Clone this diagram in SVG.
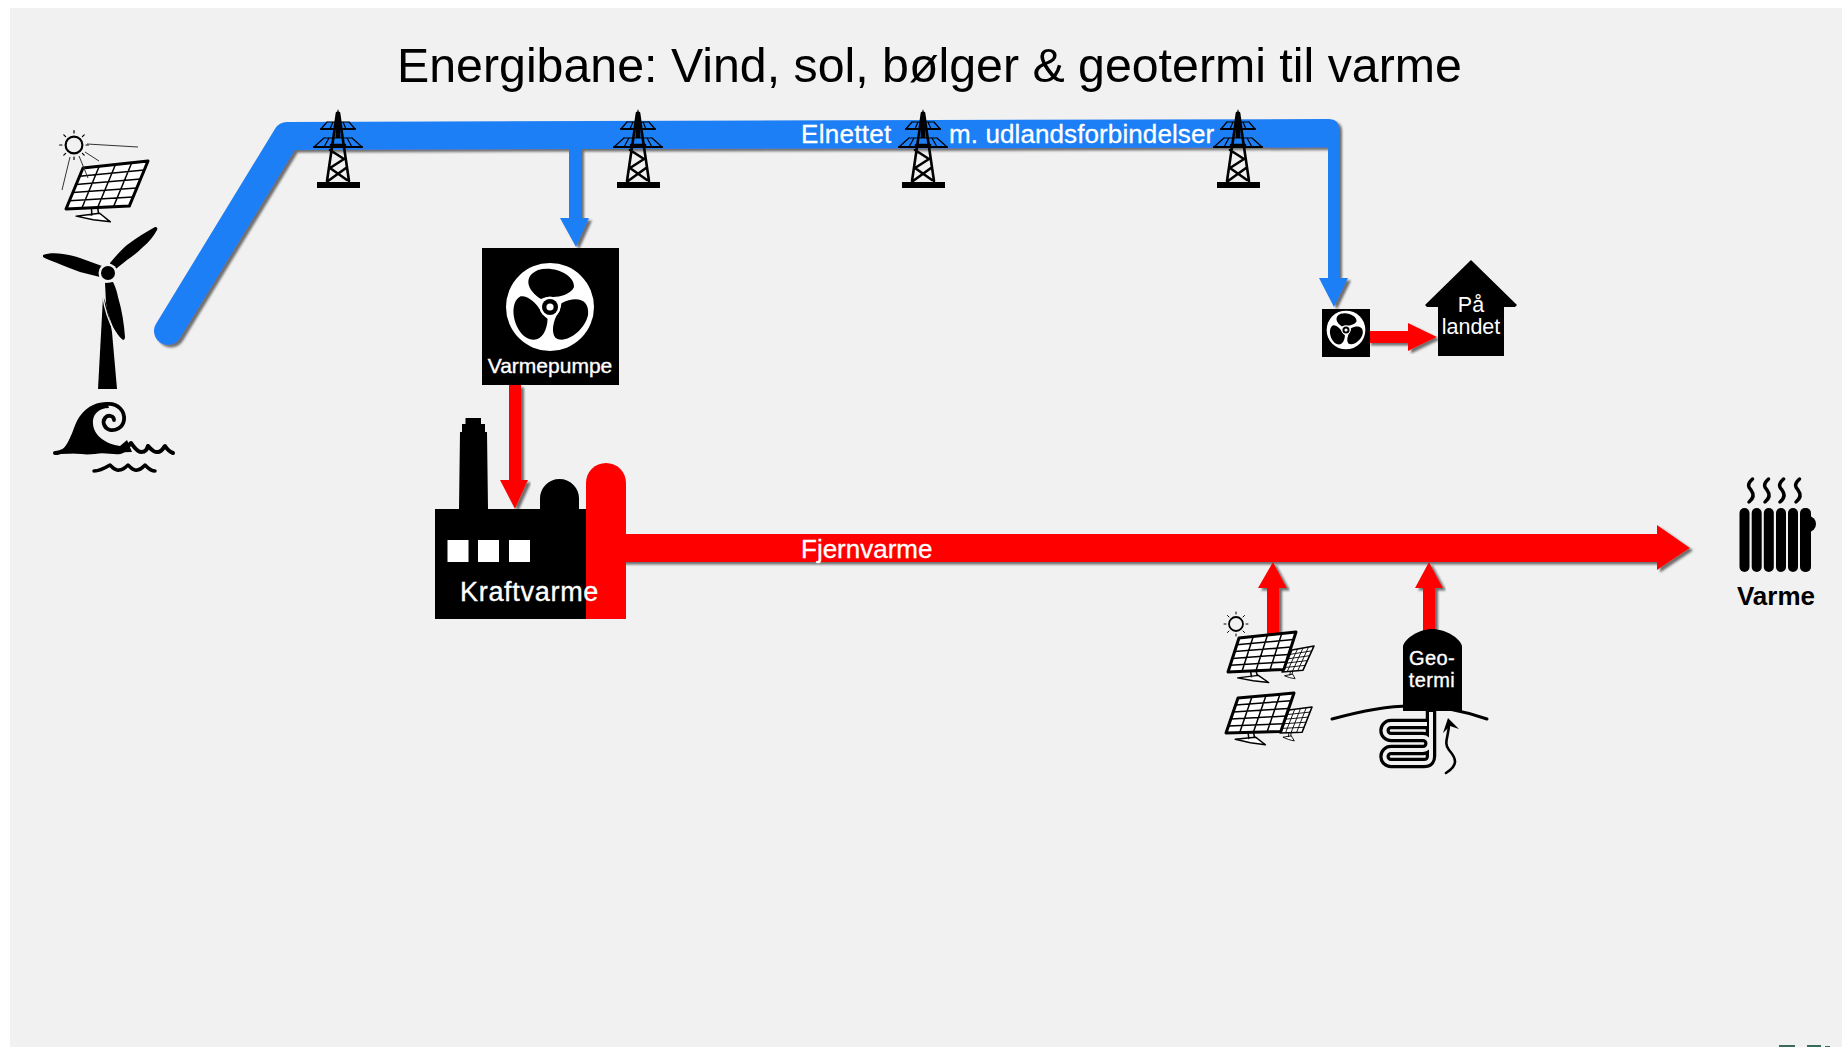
<svg xmlns="http://www.w3.org/2000/svg" width="1842" height="1047" viewBox="0 0 1842 1047">
<style>
text{font-family:"Liberation Sans",Arial,sans-serif}
.w{fill:#fff;stroke:#fff;stroke-width:.35}
.lbl{font-size:26px;fill:#fff;stroke:#fff;stroke-width:.3}
.blue{fill:#1e7ff5}
.red{fill:#ff0000}
.k{fill:#000}
.ln{fill:none;stroke:#000;stroke-linecap:round;stroke-linejoin:round}
.sh{filter:url(#shadow)}
.po{fill:#fff;stroke:#000;stroke-width:var(--o,3);stroke-linejoin:round}
.pg{fill:none;stroke:#000;stroke-width:var(--g,1.5)}
.ps{fill:#fff;stroke:#000;stroke-width:var(--g,1.5);stroke-linejoin:round}
.small{--o:1.6;--g:.9}
</style>
<defs>
<filter id="shadow" x="-10%" y="-10%" width="120%" height="120%"><feDropShadow dx="3" dy="2.5" stdDeviation="0.8" flood-color="#6e6e6e" flood-opacity="1"/></filter>
<g id="pylon">
<path class="ln" stroke-width="2.6" d="M-1,3 L-11,71 M1,3 L11,71 M-7,35 L7,35 M-8,40 L6,49 L-8,58 L9,70 M-10,71 L8,58"/>
<path d="M-1.500,4 L0,-1 L1.500,4 L2.500,28 L-2.500,28Z" class="k"/>
<path class="ln" stroke-width="1.200" d="M-11,12 H11 M-14,28 H14 M-17,19 L-11,12 M17,19 L11,12 M-24,37 L-14,28 M24,37 L14,28 M-8,19 L-5,12 M8,19 L5,12 M-14,37 L-9,28 M14,37 L9,28"/>
<path class="ln" stroke-width="2.200" d="M-17,19 H17 M-24,37 H24"/>
<rect x="-21" y="72" width="43" height="6" class="k"/>
</g>
<g id="panel">
<path class="po" vector-effect="non-scaling-stroke" d="M0,0 L100,0 L100,110 L0,100Z"/>
<path class="pg" vector-effect="non-scaling-stroke" d="M0,20 L100,22 M0,40 L100,44 M0,60 L100,66 M0,80 L100,88 M25,0 L25,102 M50,0 L50,105 M75,0 L75,107"/>
<path class="ps" vector-effect="non-scaling-stroke" d="M40,103 L46,124 M50,105 L56,122 M21,121 L57,120 L80,145 L51,135Z"/>
</g>
<g id="fanblade"><path class="k" d="M-9,-8 C-22,-16 -28,-30 -12,-37 C4,-42 25,-32 24,-20 C21,-13 10,-10 3,-10 C0,-10 -5,-10 -9,-8Z"/></g>
<g id="fan">
<circle r="44" fill="#fff"/>
<use href="#fanblade"/>
<use href="#fanblade" transform="rotate(120)"/>
<use href="#fanblade" transform="rotate(240)"/>
<circle r="10.500" fill="#fff"/>
<circle r="8" class="k"/>
<circle r="3.600" fill="#fff"/>
</g>
<g id="sun"><circle r="7" fill="#f1f1f1" stroke="#000" stroke-width="1.800"/><path class="ln" stroke-width="1" d="M0,-10 V-12 M7,-7 L8.500,-8.500 M10,0 H12 M7,7 L8.500,8.500 M0,10 V12 M-7,7 L-8.500,8.500 M-10,0 H-12 M-7,-7 L-8.500,-8.500"/></g>
<path id="steam" class="ln" stroke-width="3.500" d="M1.500,0 C-4,5 -3,8 0,11 C3,15 3,19 -2,23"/>
</defs>

<rect width="1842" height="1047" fill="#fff"/>
<rect x="10" y="8" width="1832" height="1039" fill="#f1f1f1"/>
<text x="397" y="82" font-size="48.300" fill="#000" id="title">Energibane: Vind, sol, bølger &amp; geotermi til varme</text>

<g id="connectors">
<g class="sh">
<path fill="none" stroke="#1e7ff5" stroke-width="28" stroke-linecap="round" stroke-linejoin="round" d="M168,331 L287,136 L600,135"/>
<path class="blue" d="M590,121 L1329,119 Q1339,119 1339,129 V278 H1348 L1334,307 L1319,278 H1328 V147.500 L590,149Z"/>
<path class="blue" d="M569,148 H581 V218 H589 L576,247 L560,218 H569Z"/>
</g>
<path class="red sh" d="M509,385 H521 V480 H528 L515,509 L500,480 H509Z"/>
<path class="red sh" d="M620,534 H1657 V525 L1690,548 L1657,570 V562 H620Z"/>
<path class="red sh" d="M1267,640 V588 H1258 L1273,562 L1287,588 H1279 V640Z"/>
<path class="red sh" d="M1423,640 V588 H1415 L1429,562 L1443,588 H1435 V640Z"/>
<path class="red sh" d="M1368,331 H1408 V323 L1437,337 L1408,351 V343 H1368Z"/>
<text x="801" y="143" class="lbl" letter-spacing=".3">Elnettet</text>
<text x="949" y="143" class="lbl" letter-spacing=".1">m. udlandsforbindelser</text>
<text x="801" y="558" class="lbl">Fjernvarme</text>
</g>

<g id="pylon1"><use href="#pylon" x="338" y="110"/></g>
<g id="pylon2"><use href="#pylon" x="638" y="110"/></g>
<g id="pylon3"><use href="#pylon" x="923" y="110"/></g>
<g id="pylon4"><use href="#pylon" x="1238" y="110"/></g>

<g id="source-solar">
<use href="#panel" transform="matrix(.65,-.07,-.17,.41,83,168)"/>
<use href="#sun" transform="translate(74,145) scale(1.200)"/>
<path fill="none" stroke="#333" stroke-width="1" d="M87,144 L138,147 M85,152 L99,161 M79,156 L88,178 M70,157 L62,190"/>
</g>
<g id="source-wind">
<path class="k" d="M103,297 C106,300 110,320 112,332 L117,389 L98,389Z"/>
<path class="k" d="M110,263 C116,256 121,250 127,245 C136,238 146,232 155,227 C157,227 158,228 157,230 C153,237 149,242 143,247 C138,252 133,256 127,260 L112,272Z"/>
<path class="k" d="M43,255 C48,253 56,253 63,254 C70,255 75,256 80,258 L102,266 L100,277 L80,272 C72,269 64,266 57,263 C52,261 46,259 43,257Z"/>
<path class="k" d="M105,283 L113,282 C116,288 117,292 118,297 C122,310 124,324 125,337 C125,339 124,340 123,340 C119,337 116,332 113,327 C110,320 107,311 106,303Z"/>
<path fill="none" stroke="#f1f1f1" stroke-width="1.400" d="M103,297 C105,312 109,322 115,333"/>
<circle cx="108" cy="273" r="9.500" fill="#f1f1f1"/>
<circle cx="108" cy="273" r="7" class="k"/>
</g>
<g id="source-wave">
<path class="k" d="M60,452 C72,442 73,425 80,416 C88,405 98,402 107,402 L109,408 C98,408 92,415 93,424 C94,436 106,444 120,446 L127,440 L132,452 L60,454Z"/>
<path class="ln" stroke-width="3.800" d="M107,404 C118,403 125,411 124,420 C123,428 115,431 110,430 C104,428 102,422 105,418 C108,414 114,416 114,420"/>
<path class="ln" stroke-width="4" d="M55,453 C60,453 63,451 67,449 C75,452 85,453 95,452 C105,450 112,453 120,452 C125,451 127,447 131,443 C134,447 137,452 141,452 C146,452 147,449 148,446 C151,449 154,453 158,452 C162,452 163,448 165,446 C167,449 170,452 173,453"/>
<path class="ln" stroke-width="3.500" d="M94,471 C100,471 105,468 110,465 C113,468 115,471 119,470 C123,470 126,467 128,465 C131,468 134,471 137,470 C141,470 143,467 145,465 C148,468 150,471 155,471"/>
</g>

<g id="varmepumpe">
<rect x="482" y="248" width="137" height="137" class="k"/>
<use href="#fan" x="550" y="307"/>
<text x="550" y="373" font-size="21" text-anchor="middle" class="w">Varmepumpe</text>
</g>
<g id="kraftvarme">
<path class="k" d="M435,509 H459 L460,432 H462 V424 H465.500 V418 H481 V424 H485 V432 H487 L488,509 H540 V498.500 A19.500,19.500 0 0 1 579,498.500 V509 H587 V619 H435Z"/>
<rect x="447.500" y="540" width="21" height="22" fill="#fff"/>
<rect x="478" y="540" width="21" height="22" fill="#fff"/>
<rect x="509" y="540" width="21" height="22" fill="#fff"/>
<path class="red" d="M586,619 V483 A20,20 0 0 1 626,483 V619Z"/>
<text x="460" y="601" font-size="27" letter-spacing=".7" class="w">Kraftvarme</text>
</g>
<g id="varmepumpe-land">
<rect x="1322" y="309" width="48" height="48" class="k"/>
<use href="#fan" transform="translate(1346,330) scale(.44)"/>
</g>
<g id="paa-landet">
<path class="k" d="M1471,260 L1517,305 L1515,307 H1504 V356 H1438 V307 H1427 L1425,305Z"/>
<text x="1471" y="312" font-size="21.500" text-anchor="middle" fill="#fff">På</text>
<text x="1471" y="334" font-size="21.500" text-anchor="middle" fill="#fff">landet</text>
</g>
<g id="varme">
<use href="#steam" x="1751" y="479"/><use href="#steam" x="1767" y="479"/><use href="#steam" x="1782" y="479"/><use href="#steam" x="1798" y="479"/>
<circle cx="1808" cy="524" r="8" class="k"/>
<g class="k">
<rect x="1739.500" y="508" width="10" height="64" rx="5"/><rect x="1751.700" y="508" width="10" height="64" rx="5"/><rect x="1763.800" y="508" width="10" height="64" rx="5"/><rect x="1776" y="508" width="10" height="64" rx="5"/><rect x="1788" y="508" width="10" height="64" rx="5"/><rect x="1800" y="508" width="11" height="64" rx="5"/>
</g>
<text x="1776" y="605" font-size="26" font-weight="700" text-anchor="middle" fill="#000">Varme</text>
</g>
<g id="solvarme">
<use href="#panel" class="small" transform="matrix(.22,-.04,-.10,.22,1292,650)"/>
<use href="#panel" transform="matrix(.57,-.06,-.11,.34,1239,638)"/>
<use href="#panel" class="small" transform="matrix(.23,-.03,-.09,.23,1289,710)"/>
<use href="#panel" transform="matrix(.56,-.05,-.12,.35,1238,698)"/>
<use href="#sun" x="1236" y="624"/>
</g>
<g id="geotermi">
<path class="k" d="M1403,711 V646 C1405,638 1420,629 1432,629 C1445,629 1460,638 1462,646 V711Z"/>
<path class="ln" stroke-width="3" d="M1332,719 Q1380,706 1410,706 Q1450,706 1487,719"/>
<text x="1432" y="665" font-size="20" text-anchor="middle" class="w" letter-spacing=".4">Geo-</text>
<text x="1432" y="687" font-size="20" text-anchor="middle" class="w" letter-spacing=".4">termi</text>
<path fill="none" stroke="#000" stroke-width="10.500" stroke-linejoin="round" d="M1431,709 V756 Q1431,763 1424,763 H1391 A6.500,6.500 0 0 1 1391,750 H1423 A6.500,6.500 0 0 0 1423,737 H1391 A6.500,6.500 0 0 1 1391,724 H1427"/>
<path fill="none" stroke="#f1f1f1" stroke-width="4" stroke-linejoin="round" d="M1431,712 V756 Q1431,763 1424,763 H1391 A6.500,6.500 0 0 1 1391,750 H1423 A6.500,6.500 0 0 0 1423,737 H1391 A6.500,6.500 0 0 1 1391,724 H1427"/>
<path class="ln" stroke-width="2.600" d="M1446,773 C1459,765 1456,758 1449,750 C1443,743 1449,736 1449,724"/>
<path class="k" d="M1448,718 L1459,729 L1450,726 L1443,733Z"/>
</g>
<g fill="#3a6b5a"><rect x="1779" y="1045" width="16" height="2"/><rect x="1807" y="1045" width="14" height="2"/><rect x="1825" y="1046" width="5" height="1"/></g>
</svg>
